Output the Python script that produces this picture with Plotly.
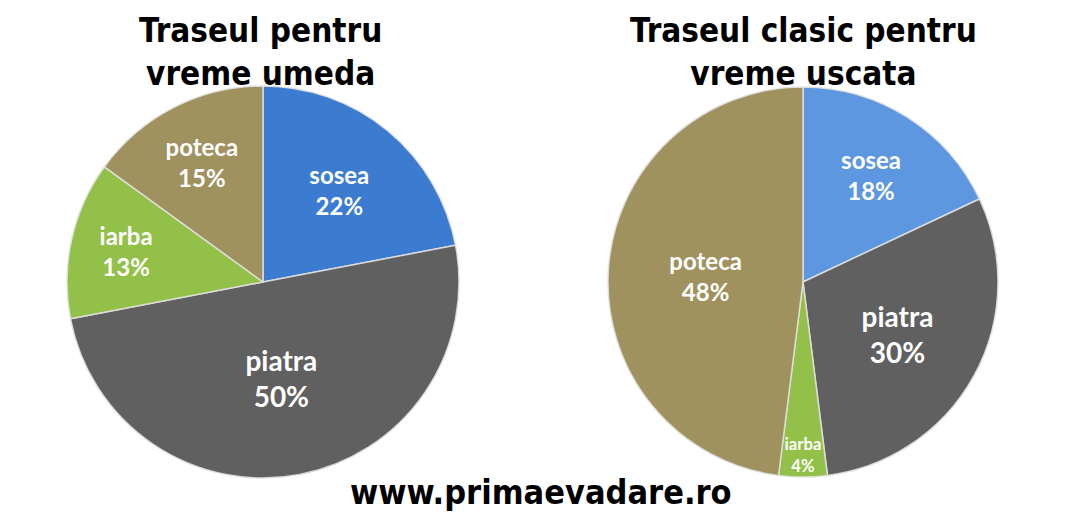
import plotly.graph_objects as go

categories = ["sosea", "piatra", "iarba", "poteca"]
wet_values = [22, 50, 13, 15]
dry_values = [18, 30, 4, 48]
wet_title = ["Traseul pentru", "vreme umeda"]
dry_title = ["Traseul clasic pentru", "vreme uscata"]
footer = "www.primaevadare.ro"

wet_colors = ["#3b7bd0", "#606060", "#93c048", "#9f925e"]
dry_colors = ["#5c97df", "#606060", "#93c048", "#9f925e"]

TITLE_FONT = "DejaVu Sans Condensed, Liberation Sans Narrow, sans-serif"
LABEL_FONT = "Lato, Open Sans, sans-serif"

W, H = 1064, 507  # page has an 8px body margin


def px(x):
    return (x - 8) / W


def py(y):
    return 1 - (y - 8) / H


fig = go.Figure()


def add_pie(values, colors, cx, cy, r, sizes):
    fig.add_trace(go.Pie(
        labels=categories,
        values=values,
        sort=False,
        direction="clockwise",
        rotation=0,
        marker=dict(colors=colors, line=dict(color="rgba(225,225,225,0.9)", width=1.5)),
        texttemplate="<b>%{label}</b><br><b>%{percent:.0%}</b>",
        textposition="inside",
        insidetextorientation="horizontal",
        textfont=dict(family=LABEL_FONT, size=sizes, color="white"),
        domain=dict(x=[px(cx - r), px(cx + r)], y=[py(cy + r), py(cy - r)]),
        showlegend=False,
        hoverinfo="label+percent",
    ))


add_pie(wet_values, wet_colors, 263, 282, 196, [24, 28, 24, 24])
add_pie(dry_values, dry_colors, 803, 282, 195, [24, 28, 18, 24])

annotations = []
for lines, xc in ((wet_title, 260), (dry_title, 803)):
    annotations.append(dict(
        text="<b>" + "<br>".join(lines) + "</b>", x=px(xc), y=py(52),
        xref="paper", yref="paper", xanchor="center", yanchor="middle",
        showarrow=False, font=dict(family=TITLE_FONT, size=33, color="black"),
    ))
annotations.append(dict(
    text="<b>" + footer + "</b>", x=px(541), y=py(492),
    xref="paper", yref="paper", xanchor="center", yanchor="middle",
    showarrow=False, font=dict(family=TITLE_FONT, size=34, color="black"),
))

fig.update_layout(
    width=W, height=H,
    margin=dict(l=0, r=0, t=0, b=0),
    paper_bgcolor="white", plot_bgcolor="white",
    annotations=annotations,
)

fig.write_html("out.html")
